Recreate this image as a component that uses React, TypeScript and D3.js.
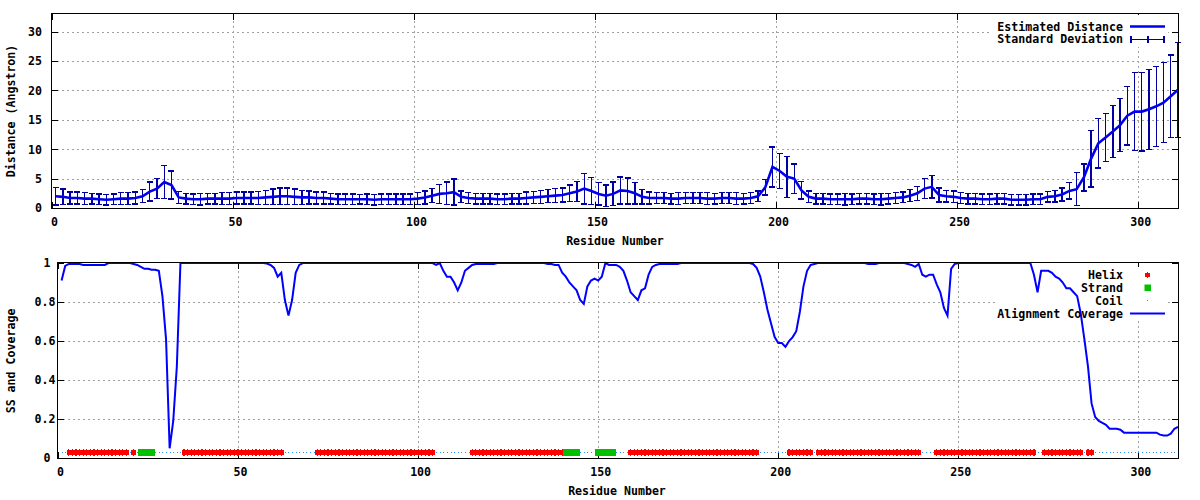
import * as d3 from 'd3';

// Estimated distance (Angstrom) at residues 1, 3, 5 ... 311
const distMean = [
  2.0, 1.9, 1.7, 1.7, 1.6, 1.6, 1.5, 1.4, 1.5, 1.6, 1.6, 1.7, 2.0, 2.8, 3.3, 4.4, 3.9, 1.8, 1.6, 1.5,
  1.5, 1.6, 1.6, 1.6, 1.6, 1.7, 1.7, 1.7, 1.7, 1.8, 1.9, 2.0, 2.0, 1.9, 1.8, 1.8, 1.7, 1.7, 1.6, 1.5,
  1.5, 1.5, 1.5, 1.5, 1.4, 1.5, 1.5, 1.5, 1.5, 1.5, 1.6, 1.8, 2.1, 2.4, 2.5, 2.7, 1.9, 1.7, 1.6, 1.6,
  1.6, 1.5, 1.5, 1.6, 1.6, 1.7, 1.8, 1.9, 2.0, 2.1, 2.2, 2.5, 2.8, 3.3, 2.9, 2.4, 2.1, 2.4, 3.0, 2.9,
  2.5, 1.9, 1.7, 1.7, 1.7, 1.6, 1.6, 1.7, 1.7, 1.7, 1.6, 1.6, 1.7, 1.7, 1.6, 1.6, 1.7, 2.0, 3.5, 7.0,
  6.3, 5.3, 5.0, 3.0, 1.9, 1.6, 1.6, 1.5, 1.5, 1.5, 1.5, 1.6, 1.6, 1.5, 1.5, 1.6, 1.7, 1.8, 2.1, 2.5,
  3.3, 3.6, 2.2, 2.0, 1.9, 1.7, 1.6, 1.6, 1.5, 1.5, 1.6, 1.6, 1.4, 1.4, 1.4, 1.5, 1.5, 1.9, 2.0, 2.3,
  2.9, 3.2, 5.2, 8.4, 11.0, 12.0, 13.0, 14.1, 15.7, 16.4, 16.4, 16.8, 17.3, 17.9, 19.0, 20.1,
];

const distSd = [
  1.5, 1.3, 1.0, 1.0, 1.0, 0.9, 0.9, 0.9, 0.9, 1.0, 1.0, 1.0, 1.1, 1.6, 1.7, 2.8, 2.4, 1.0, 0.9, 0.9,
  1.0, 0.9, 0.9, 1.0, 1.0, 1.0, 1.0, 1.0, 1.1, 1.2, 1.3, 1.4, 1.4, 1.3, 1.2, 1.1, 1.0, 1.0, 0.9, 0.9,
  0.9, 0.9, 0.8, 0.9, 0.9, 0.9, 0.9, 0.9, 0.9, 0.9, 1.0, 1.1, 1.2, 1.6, 1.9, 2.2, 1.0, 0.9, 0.9, 0.9,
  0.9, 0.9, 0.9, 0.9, 0.9, 1.0, 1.0, 1.1, 1.1, 1.2, 1.2, 1.4, 1.7, 2.6, 2.3, 1.9, 1.8, 2.0, 2.3, 2.2,
  1.8, 1.2, 1.0, 0.9, 0.9, 0.9, 1.0, 0.9, 0.9, 0.9, 1.0, 0.9, 0.9, 0.9, 1.0, 0.9, 0.9, 0.9, 1.3, 3.4,
  3.0, 3.5, 2.5, 1.5, 1.0, 0.9, 0.9, 0.9, 0.9, 1.0, 0.9, 0.9, 0.9, 0.9, 1.0, 0.9, 0.9, 0.9, 1.0, 1.2,
  1.7, 1.9, 1.2, 1.0, 1.0, 0.9, 0.9, 0.9, 0.9, 0.9, 0.9, 0.9, 0.9, 0.9, 0.9, 0.9, 0.9, 0.9, 1.0, 1.1,
  1.4, 2.8, 2.3, 4.8, 4.2, 4.1, 4.4, 4.5, 5.0, 6.6, 6.7, 6.8, 6.8, 6.8, 7.0, 8.1,
];

// Alignment coverage at residues 1 ... 311
const coverage = [
  0.91, 0.985, 0.995, 0.995, 0.995, 0.995, 0.99, 0.99, 0.99, 0.99, 0.99, 0.99, 0.99, 1, 1, 1, 1, 1, 1, 1,
  0.995, 0.99, 0.98, 0.97, 0.97, 0.965, 0.965, 0.96, 0.83, 0.61, 0.05, 0.19, 0.47, 1, 1, 1, 1, 1, 1, 1,
  1, 1, 1, 1, 1, 1, 1, 1, 1, 1, 1, 1, 1, 1, 1, 1, 1, 0.997, 0.99, 0.975,
  0.93, 0.95, 0.81, 0.73, 0.81, 0.95, 0.99, 1, 1, 1, 1, 1, 1, 1, 1, 1, 1, 1, 1, 1,
  1, 1, 1, 1, 1, 1, 1, 1, 1, 1, 1, 1, 1, 1, 1, 1, 1, 1, 1, 1,
  1, 1, 1, 1, 0.99, 1, 0.96, 0.93, 0.93, 0.9, 0.86, 0.9, 0.96, 0.975, 0.99, 0.995, 0.995, 0.995, 0.995, 0.995,
  0.995, 1, 1, 1, 1, 1, 1, 1, 1, 1, 1, 1, 1, 1, 1, 0.995, 0.995, 0.99, 0.99, 0.95,
  0.93, 0.9, 0.88, 0.86, 0.81, 0.79, 0.88, 0.91, 0.92, 0.91, 0.93, 1.0, 0.99, 0.99, 0.99, 0.98, 0.96, 0.91, 0.85, 0.83,
  0.81, 0.86, 0.87, 0.94, 0.98, 0.99, 0.995, 0.995, 0.995, 0.995, 0.995, 0.995, 1, 1, 1, 1, 1, 1, 1, 1,
  1, 1, 1, 1, 1, 1, 1, 1, 1, 1, 1, 1, 0.995, 0.975, 0.93, 0.85, 0.76, 0.69, 0.62, 0.59,
  0.59, 0.57, 0.6, 0.62, 0.65, 0.75, 0.88, 0.96, 0.99, 0.995, 1, 1, 1, 1, 1, 1, 1, 1, 1, 1,
  1, 1, 1, 1, 0.995, 0.995, 0.995, 1, 1, 1, 1, 1, 1, 1, 1, 0.995, 0.99, 0.98, 0.995, 0.94,
  0.93, 0.94, 0.94, 0.89, 0.85, 0.77, 0.73, 0.97, 0.995, 1, 1, 1, 1, 1, 1, 1, 1, 1, 1, 1,
  1, 1, 1, 1, 1, 1, 1, 1, 1, 1, 0.94, 0.85, 0.96, 0.96, 0.96, 0.95, 0.93, 0.92, 0.9, 0.87,
  0.87, 0.85, 0.83, 0.74, 0.61, 0.47, 0.28, 0.21, 0.19, 0.18, 0.17, 0.15, 0.15, 0.15, 0.145, 0.13, 0.13, 0.13, 0.13, 0.13,
  0.13, 0.13, 0.13, 0.13, 0.13, 0.12, 0.115, 0.115, 0.125, 0.15, 0.16,
];

// Secondary structure segments [first, last] residue
const helixSegs = [[3, 19], [21, 21], [35, 62], [72, 104], [115, 140], [159, 194], [203, 209], [211, 239], [244, 271], [274, 284], [286, 287]];
const strandSegs = [[23, 26], [141, 144], [150, 154]];

const xTicks = [0, 50, 100, 150, 200, 250, 300];
const distTicks = [0, 5, 10, 15, 20, 25, 30];
const covTicks = [0, 0.2, 0.4, 0.6, 0.8, 1];

const nRes = coverage.length;
const distRes = d3.range(1, nRes + 1, 2);
const covRes = d3.range(1, nRes + 1);

const FONT = "'DejaVu Sans Mono', 'Liberation Mono', monospace";
const FS = 11.6;
const GRID = '#a0a0a0';
const SS_Y = 0.031;
const HELIX = '#ff0000';
const STRAND = '#00c000';
const COIL = '#1e90ff';

const expand = (segs: number[][]) => segs.flatMap(([a, b]) => d3.range(a, b + 1));
const helixRes = expand(helixSegs);
const strandRes = expand(strandSegs);
const coilRes = covRes.filter((r) => !helixRes.includes(r) && !strandRes.includes(r));

const p = (v: number) => Math.round(v) + 0.5;

// gnuplot-ish filled point: a wide core with a thin vertical bar poking out
function HelixMark({ cx, cy }: { cx: number; cy: number }) {
  return (
    <g shapeRendering="crispEdges">
      <rect x={cx - 2.3} y={cy - 2.2} width={4.8} height={4.4} />
      <rect x={cx - 0.6} y={cy - 3.2} width={1.2} height={6.4} />
    </g>
  );
}

function Frame({ x, y, yTicks, grid, labelX }: { x: d3.ScaleLinear<number, number>; y: d3.ScaleLinear<number, number>; yTicks: number[]; grid: number[]; labelX: (t: number) => number }) {
  const [x0, x1] = x.range();
  const [y0, y1] = y.range();
  return (
    <g shapeRendering="crispEdges">
      {xTicks.filter((t) => t > 0).map((t) => (
        <line key={'gx' + t} x1={p(x(t))} x2={p(x(t))} y1={y0} y2={y1} stroke={GRID} strokeDasharray="2,3" />
      ))}
      {grid.map((t) => (
        <line key={'gy' + t} x1={x0} x2={x1} y1={p(y(t))} y2={p(y(t))} stroke={GRID} strokeDasharray="2,3" />
      ))}
      {xTicks.map((t) => (
        <g key={'tx' + t}>
          <line x1={p(x(t))} x2={p(x(t))} y1={y0} y2={y0 - 6} stroke="#000" />
          <line x1={p(x(t))} x2={p(x(t))} y1={y1} y2={y1 + 6} stroke="#000" />
          <text x={x(t) + 2.5} y={y0 + 18} textAnchor="middle" fontFamily={FONT} fontWeight="bold" fontSize={FS}>{t}</text>
        </g>
      ))}
      {yTicks.map((t) => (
        <g key={'ty' + t}>
          <line x1={x0} x2={x0 + 6} y1={p(y(t))} y2={p(y(t))} stroke="#000" />
          <line x1={x1} x2={x1 - 6} y1={p(y(t))} y2={p(y(t))} stroke="#000" />
          <text x={labelX(t)} y={y(t) + 4.3} textAnchor="end" fontFamily={FONT} fontWeight="bold" fontSize={FS}>{String(t)}</text>
        </g>
      ))}
    </g>
  );
}

export default function App() {
  // top panel: distance
  const xT = d3.scaleLinear().domain([0, 311]).range([52, 1178]);
  const yT = d3.scaleLinear().domain([0, 33]).range([208, 14]);
  // bottom panel: SS and coverage
  const xB = d3.scaleLinear().domain([0, 311]).range([58, 1178]);
  const yB = d3.scaleLinear().domain([0, 1]).range([458, 263]);

  const meanLine = d3.line<number>().x((_, i) => xT(distRes[i])).y((d) => yT(d))(distMean) ?? '';
  const covLine = d3.line<number>().x((_, i) => xB(covRes[i])).y((d) => yB(d))(coverage) ?? '';

  return (
    <svg width={1200} height={500} style={{ position: 'absolute', left: 0, top: 0, background: '#fff' }}>
      <rect width={1200} height={500} fill="#fff" />

      {/* ---------- top panel ---------- */}
      <Frame x={xT} y={yT} yTicks={distTicks} grid={distTicks.filter((t) => t > 0)} labelX={() => 42} />
      <rect x={992} y={15} width={176} height={32} fill="#fff" />
      <g stroke="#0000a0" strokeWidth={1.4} shapeRendering="crispEdges">
        {distMean.map((m, i) => {
          const cx = xT(distRes[i]);
          const top = yT(m + distSd[i]);
          const bot = yT(Math.max(0, m - distSd[i]));
          return (
            <g key={i}>
              <line x1={cx} x2={cx} y1={top} y2={bot} />
              <line x1={cx - 3} x2={cx + 3} y1={top} y2={top} />
              <line x1={cx - 3} x2={cx + 3} y1={bot} y2={bot} />
            </g>
          );
        })}
      </g>
      <path d={meanLine} fill="none" stroke="#0000ee" strokeWidth={2.6} />
      <rect x={51.5} y={13.5} width={1127} height={195} fill="none" stroke="#000" shapeRendering="crispEdges" />

      <g fontFamily={FONT} fontWeight="bold" fontSize={FS}>
        <text x={1123} y={30.5} textAnchor="end">Estimated Distance</text>
        <text x={1123} y={43.3} textAnchor="end">Standard Deviation</text>
      </g>
      <line x1={1130} x2={1165} y1={26.5} y2={26.5} stroke="#0000ee" strokeWidth={2.6} />
      <g stroke="#0000a0" strokeWidth={1.4} shapeRendering="crispEdges">
        <line x1={1131} x2={1164} y1={39.5} y2={39.5} />
        <line x1={1131} x2={1131} y1={36} y2={43} />
        <line x1={1164} x2={1164} y1={36} y2={43} />
        <line x1={1148} x2={1148} y1={36} y2={43} />
      </g>

      <text x={615} y={245} textAnchor="middle" fontFamily={FONT} fontWeight="bold" fontSize={FS}>Residue Number</text>
      <text transform="translate(11,111) rotate(-90)" textAnchor="middle" dominantBaseline="central" fontFamily={FONT} fontWeight="bold" fontSize={FS}>Distance (Angstron)</text>

      {/* ---------- bottom panel ---------- */}
      <Frame x={xB} y={yB} yTicks={covTicks} grid={[0.2, 0.4, 0.6, 0.8]} labelX={(t) => (String(t).includes('.') ? 55.5 : 50.5)} />
      <rect x={997} y={267} width={171} height={52} fill="#fff" />

      <g fill={COIL}>
        {coilRes.map((r) => (
          <rect key={r} x={Math.round(xB(r))} y={Math.round(yB(SS_Y))} width={1} height={1} />
        ))}
      </g>
      <g fill={HELIX}>
        {helixRes.map((r) => (
          <HelixMark key={r} cx={xB(r)} cy={yB(SS_Y) + 0.5} />
        ))}
      </g>
      <g fill={STRAND} shapeRendering="crispEdges">
        {strandRes.map((r) => (
          <rect key={r} x={xB(r) - 3.25} y={yB(SS_Y) - 2.75} width={6.5} height={6.5} />
        ))}
      </g>
      <path d={covLine} fill="none" stroke="#0000ff" strokeWidth={2} />
      <rect x={57.5} y={262.5} width={1121} height={196} fill="none" stroke="#000" shapeRendering="crispEdges" />

      <g fontFamily={FONT} fontWeight="bold" fontSize={FS} textAnchor="end">
        <text x={1123} y={279.3}>Helix</text>
        <text x={1123} y={292.1}>Strand</text>
        <text x={1123} y={305}>Coil</text>
        <text x={1123} y={317.8}>Alignment Coverage</text>
      </g>
      <g fill={HELIX}>
        <HelixMark cx={1147.5} cy={275} />
      </g>
      <rect x={1144.5} y={284.5} width={6.5} height={6.5} fill={STRAND} />
      <rect x={1147} y={300} width={1} height={1} fill={COIL} />
      <line x1={1130} x2={1165} y1={313.5} y2={313.5} stroke="#0000ff" strokeWidth={2} />

      <text x={617} y={495} textAnchor="middle" fontFamily={FONT} fontWeight="bold" fontSize={FS}>Residue Number</text>
      <text transform="translate(11,361) rotate(-90)" textAnchor="middle" dominantBaseline="central" fontFamily={FONT} fontWeight="bold" fontSize={FS}>SS and Coverage</text>
    </svg>
  );
}
